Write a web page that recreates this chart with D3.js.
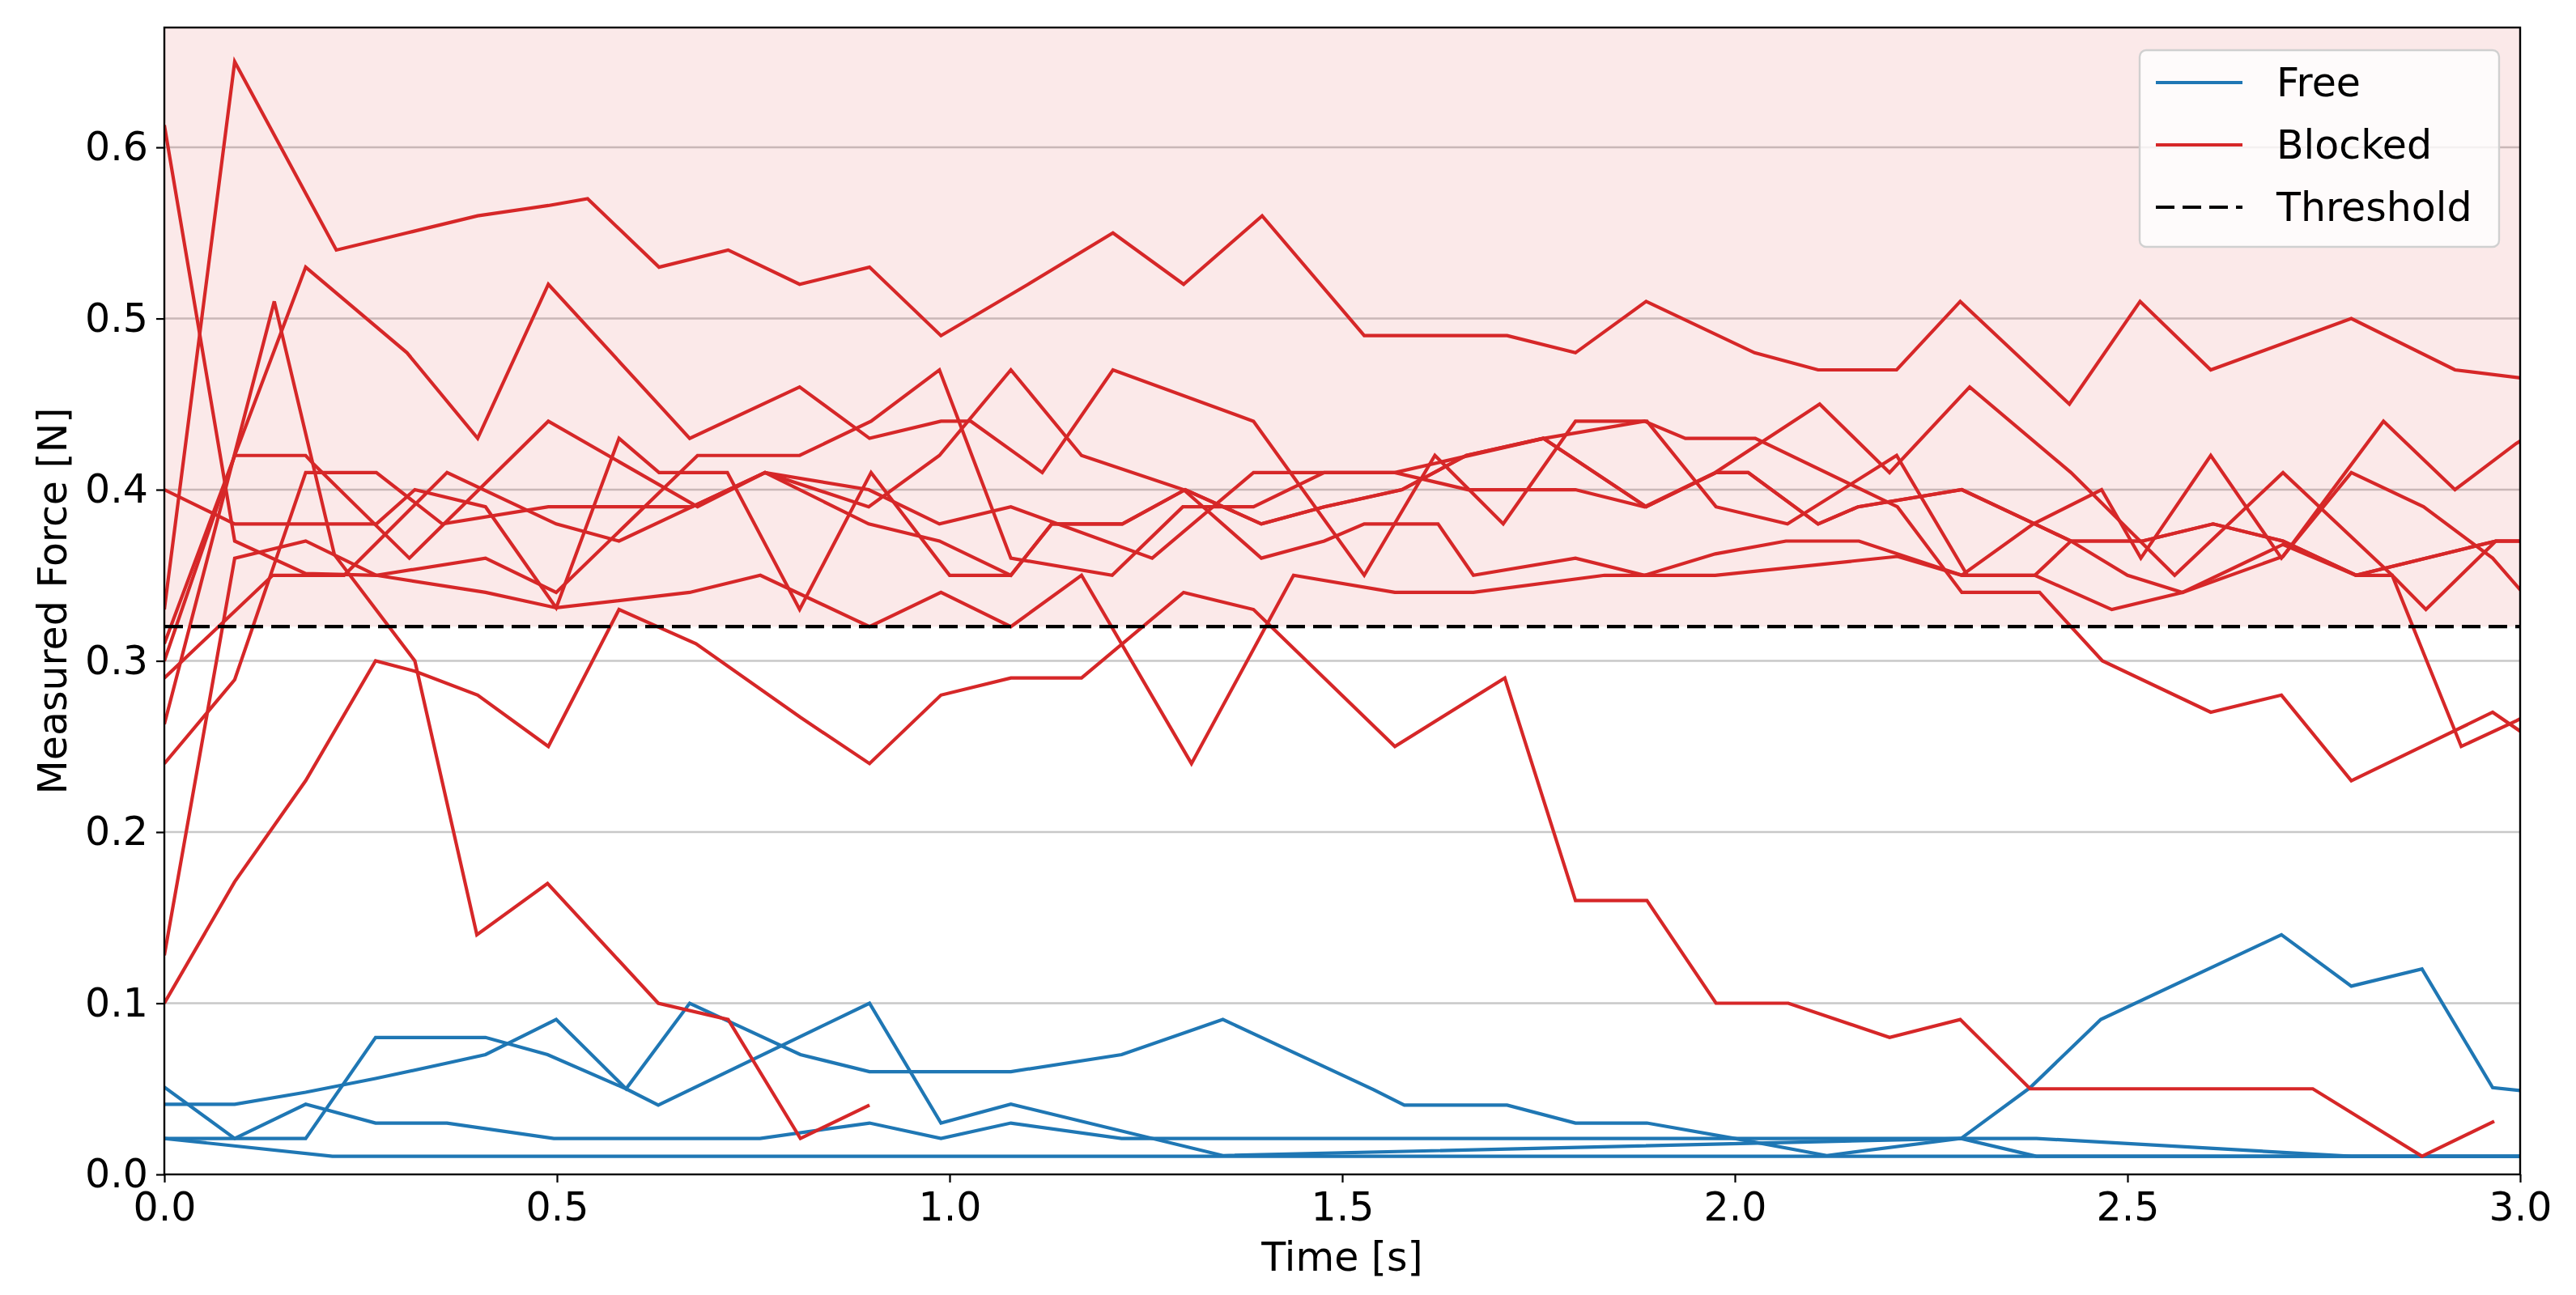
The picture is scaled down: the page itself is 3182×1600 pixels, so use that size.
<!DOCTYPE html>
<html>
<head>
<meta charset="utf-8">
<script src="https://d3js.org/d3.v7.min.js"></script>
<style>
  html, body { margin: 0; padding: 0; background: #fff; }
  text { font-family: "DejaVu Sans", sans-serif; }
</style>
</head>
<body>
<svg id="chart" width="3182" height="1600"></svg>
<script>
// each trial is a list of [time (s), force (N)] samples

// free trials
const free1 = [[0,0.041],[0.0896,0.041],[0.18,0.048],[0.269,0.056],[0.36,0.065],[0.409,0.070],[0.499,0.0905],[0.588,0.050],[0.669,0.10],[0.81,0.07],[0.898,0.06],[1.078,0.06],[1.219,0.07],[1.348,0.0905],[1.54,0.0495],[1.579,0.0405],[1.71,0.0405],[1.797,0.030],[1.888,0.030],[2.0,0.021],[2.117,0.011],[2.288,0.021],[2.376,0.0507],[2.466,0.0905],[2.696,0.140],[2.785,0.110],[2.875,0.120],[2.965,0.0507],[3.06,0.046]];
const free2 = [[0,0.021],[0.0896,0.021],[0.18,0.021],[0.269,0.080],[0.409,0.080],[0.488,0.070],[0.588,0.050],[0.629,0.0405],[0.898,0.10],[0.989,0.030],[1.078,0.041],[1.348,0.011],[2.288,0.021],[2.384,0.0106],[3.06,0.0106]];
const free3 = [[0,0.051],[0.0896,0.021],[0.18,0.041],[0.269,0.030],[0.36,0.030],[0.496,0.021],[0.7585,0.021],[0.898,0.030],[0.989,0.021],[1.078,0.030],[1.219,0.021],[2.384,0.021],[2.785,0.0106],[3.06,0.0106]];
const free4 = [[0,0.021],[0.214,0.0106],[3.06,0.0106]];

// blocked trials
const blocked1 = [[0,0.33],[0.0896,0.65],[0.219,0.54],[0.309,0.55],[0.399,0.56],[0.489,0.566],[0.539,0.57],[0.630,0.53],[0.718,0.54],[0.809,0.52],[0.898,0.53],[0.989,0.49],[1.10,0.52],[1.208,0.55],[1.298,0.52],[1.398,0.56],[1.528,0.49],[1.71,0.49],[1.797,0.48],[1.887,0.51],[2.025,0.48],[2.106,0.47],[2.206,0.47],[2.287,0.51],[2.426,0.45],[2.516,0.51],[2.606,0.47],[2.785,0.50],[2.917,0.47],[3.06,0.462]];
const blocked2 = [[0,0.30],[0.0896,0.42],[0.18,0.53],[0.309,0.48],[0.399,0.43],[0.489,0.52],[0.669,0.43],[0.809,0.46],[0.898,0.43],[0.989,0.44],[1.027,0.44],[1.118,0.41],[1.208,0.47],[1.387,0.44],[1.528,0.35],[1.618,0.42],[1.705,0.38],[1.797,0.44],[1.888,0.44],[1.976,0.39],[2.067,0.38],[2.206,0.42],[2.296,0.35],[2.382,0.35],[2.428,0.37],[2.519,0.37],[2.609,0.38],[2.698,0.37],[2.791,0.35],[2.969,0.37],[3.06,0.37]];
const blocked3 = [[0,0.31],[0.0896,0.42],[0.18,0.42],[0.19,0.415],[0.312,0.36],[0.489,0.44],[0.679,0.39],[0.765,0.41],[0.897,0.39],[0.987,0.42],[1.078,0.47],[1.168,0.42],[1.298,0.40],[1.397,0.36],[1.477,0.37],[1.528,0.38],[1.622,0.38],[1.667,0.35],[1.797,0.36],[1.885,0.35],[1.975,0.3625],[2.065,0.37],[2.158,0.37],[2.289,0.35],[2.38,0.38],[2.467,0.40],[2.517,0.36],[2.606,0.42],[2.696,0.36],[2.785,0.41],[2.877,0.39],[2.965,0.36],[3.06,0.31]];
const blocked4 = [[0,0.613],[0.0896,0.37],[0.18,0.351],[0.27,0.35],[0.409,0.34],[0.499,0.331],[0.669,0.34],[0.759,0.35],[0.898,0.32],[0.989,0.34],[1.078,0.32],[1.168,0.35],[1.308,0.24],[1.438,0.35],[1.567,0.34],[1.667,0.34],[1.834,0.35],[1.975,0.35],[2.207,0.361],[2.289,0.35],[2.382,0.35],[2.48,0.33],[2.57,0.34],[2.698,0.368],[2.791,0.35],[2.837,0.35],[2.925,0.25],[2.995,0.265],[3.06,0.28]];
const blocked5 = [[0,0.40],[0.0896,0.38],[0.27,0.38],[0.319,0.40],[0.409,0.39],[0.499,0.331],[0.579,0.43],[0.63,0.41],[0.717,0.41],[0.809,0.33],[0.9,0.41],[1.0,0.35],[1.078,0.35],[1.13,0.38],[1.22,0.38],[1.30,0.40],[1.397,0.38],[1.477,0.39],[1.576,0.40],[1.658,0.42],[1.756,0.43],[1.887,0.39],[1.976,0.41],[2.017,0.41],[2.106,0.38],[2.157,0.39],[2.289,0.40],[2.382,0.38],[2.428,0.37],[2.519,0.37],[2.609,0.38],[2.698,0.37],[2.791,0.35],[2.969,0.37],[3.06,0.37]];
const blocked6 = [[0,0.24],[0.0896,0.289],[0.18,0.41],[0.27,0.41],[0.354,0.38],[0.489,0.39],[0.672,0.39],[0.765,0.41],[0.897,0.40],[0.987,0.38],[1.078,0.39],[1.258,0.36],[1.387,0.41],[1.567,0.41],[1.757,0.43],[1.885,0.44],[1.937,0.43],[2.026,0.43],[2.207,0.39],[2.289,0.34],[2.388,0.34],[2.468,0.30],[2.606,0.27],[2.696,0.28],[2.785,0.23],[2.875,0.25],[2.965,0.27],[3.06,0.24]];
const blocked7 = [[0,0.128],[0.0896,0.36],[0.18,0.37],[0.27,0.35],[0.409,0.36],[0.499,0.34],[0.679,0.42],[0.809,0.42],[0.9,0.44],[0.987,0.47],[1.078,0.36],[1.207,0.35],[1.297,0.39],[1.387,0.39],[1.477,0.41],[1.567,0.41],[1.66,0.40],[1.797,0.40],[1.885,0.39],[1.975,0.41],[2.108,0.45],[2.197,0.41],[2.299,0.46],[2.428,0.41],[2.56,0.35],[2.698,0.41],[2.837,0.35],[2.88,0.33],[2.969,0.37],[3.06,0.37]];
const blocked8 = [[0,0.29],[0.138,0.35],[0.229,0.35],[0.36,0.41],[0.499,0.38],[0.579,0.37],[0.672,0.39],[0.765,0.41],[0.897,0.38],[0.987,0.37],[1.078,0.35],[1.13,0.38],[1.22,0.38],[1.30,0.40],[1.397,0.38],[1.477,0.39],[1.576,0.40],[1.658,0.42],[1.756,0.43],[1.887,0.39],[1.976,0.41],[2.017,0.41],[2.106,0.38],[2.157,0.39],[2.289,0.40],[2.382,0.38],[2.428,0.37],[2.5,0.35],[2.57,0.34],[2.698,0.361],[2.826,0.44],[2.917,0.40],[2.995,0.427],[3.06,0.445]];
const blocked9 = [[0,0.10],[0.0896,0.171],[0.18,0.23],[0.269,0.30],[0.319,0.294],[0.399,0.28],[0.489,0.25],[0.579,0.33],[0.677,0.31],[0.81,0.267],[0.898,0.24],[0.989,0.28],[1.078,0.29],[1.168,0.29],[1.298,0.34],[1.387,0.33],[1.567,0.25],[1.707,0.29],[1.797,0.16],[1.888,0.16],[1.976,0.10],[2.068,0.10],[2.197,0.08],[2.287,0.0905],[2.376,0.05],[2.736,0.05],[2.875,0.0106],[2.967,0.031]];
const blocked10 = [[0,0.263],[0.14,0.51],[0.2166,0.362],[0.319,0.30],[0.398,0.14],[0.488,0.17],[0.629,0.10],[0.718,0.0905],[0.81,0.021],[0.898,0.0405]];

const freeTrials = [free1, free2, free3, free4];
const blockedTrials = [blocked1, blocked2, blocked3, blocked4, blocked5, blocked6, blocked7, blocked8, blocked9, blocked10];

const threshold = 0.32;
const xTicks = [0, 0.5, 1.0, 1.5, 2.0, 2.5, 3.0];
const yTicks = [0, 0.1, 0.2, 0.3, 0.4, 0.5, 0.6];
const legendItems = [
  { label: "Free", color: "#1f77b4", dash: null },
  { label: "Blocked", color: "#d62728", dash: null },
  { label: "Threshold", color: "#000", dash: "23,10" }
];

const svg = d3.select("#chart");
const W = +svg.attr("width"), H = +svg.attr("height");
const margin = { top: 34, right: 69, bottom: 149, left: 203 };
const width = W - margin.left - margin.right;
const height = H - margin.top - margin.bottom;
const fontSize = 49;

const x = d3.scaleLinear().domain([0, 3]).range([0, width]);
const y = d3.scaleLinear().domain([0, 0.67]).range([height, 0]);

const g = svg.append("g").attr("transform", `translate(${margin.left},${margin.top})`);

svg.append("defs").append("clipPath").attr("id", "plot-clip")
  .append("rect").attr("width", width).attr("height", height);

// grid
g.selectAll(".grid")
  .data(yTicks.filter(d => d > 0))
  .enter()
  .append("line")
  .attr("class", "grid")
  .attr("x1", 0).attr("x2", width)
  .attr("y1", d => y(d)).attr("y2", d => y(d))
  .attr("stroke", "#c8c8c8")
  .attr("stroke-width", 2.6);

// blocked zone above threshold
g.append("rect")
  .attr("x", 0).attr("y", 0)
  .attr("width", width).attr("height", y(threshold))
  .attr("fill", "#d62728")
  .attr("fill-opacity", 0.1);

const line = d3.line().x(d => x(d[0])).y(d => y(d[1]));
const plot = g.append("g").attr("clip-path", "url(#plot-clip)");

plot.selectAll(".free")
  .data(freeTrials)
  .enter()
  .append("path")
  .attr("class", "free")
  .attr("d", line)
  .attr("fill", "none")
  .attr("stroke", "#1f77b4")
  .attr("stroke-width", 4.2)
  .attr("stroke-linejoin", "miter");

plot.selectAll(".blocked")
  .data(blockedTrials)
  .enter()
  .append("path")
  .attr("class", "blocked")
  .attr("d", line)
  .attr("fill", "none")
  .attr("stroke", "#d62728")
  .attr("stroke-width", 4.2)
  .attr("stroke-linejoin", "miter");

plot.append("line")
  .attr("x1", 0).attr("x2", width)
  .attr("y1", y(threshold)).attr("y2", y(threshold))
  .attr("stroke", "#000")
  .attr("stroke-width", 4.2)
  .attr("stroke-dasharray", "23,10");

// axes
const xAxis = g.append("g")
  .attr("transform", `translate(0,${height})`)
  .call(d3.axisBottom(x).tickValues(xTicks).tickFormat(d3.format(".1f")).tickSize(10).tickSizeOuter(0).tickPadding(12));
const yAxis = g.append("g")
  .call(d3.axisLeft(y).tickValues(yTicks).tickFormat(d3.format(".1f")).tickSize(10).tickSizeOuter(0).tickPadding(10));

[xAxis, yAxis].forEach(a => {
  a.select(".domain").remove();
  a.selectAll(".tick line").attr("stroke", "#000").attr("stroke-width", 2.2);
  a.selectAll(".tick text").attr("fill", "#000").style("font-size", fontSize + "px").style("font-family", "DejaVu Sans");
});

// frame
g.append("rect")
  .attr("width", width).attr("height", height)
  .attr("fill", "none").attr("stroke", "#000").attr("stroke-width", 2.4);

// axis labels
svg.append("text")
  .attr("x", margin.left + width / 2)
  .attr("y", 1570)
  .attr("text-anchor", "middle")
  .style("font-size", fontSize + "px")
  .text("Time [s]");

svg.append("text")
  .attr("transform", `translate(82,${margin.top + height / 2}) rotate(-90)`)
  .attr("text-anchor", "middle")
  .style("font-size", fontSize + "px")
  .text("Measured Force [N]");

// legend
const legend = svg.append("g").attr("transform", "translate(2643,62)");
legend.append("rect")
  .attr("width", 444).attr("height", 243)
  .attr("rx", 8).attr("ry", 8)
  .attr("fill", "#fff").attr("fill-opacity", 0.8)
  .attr("stroke", "#d0d0d0").attr("stroke-width", 2.4);

const item = legend.selectAll(".item")
  .data(legendItems)
  .enter()
  .append("g")
  .attr("class", "item")
  .attr("transform", (d, i) => `translate(0,${40 + i * 77})`);

item.append("line")
  .attr("x1", 20).attr("x2", 127)
  .attr("stroke", d => d.color)
  .attr("stroke-width", 4.2)
  .attr("stroke-dasharray", d => d.dash);

item.append("text")
  .attr("x", 169)
  .attr("dy", "0.35em")
  .style("font-size", fontSize + "px")
  .text(d => d.label);
</script>
</body>
</html>
